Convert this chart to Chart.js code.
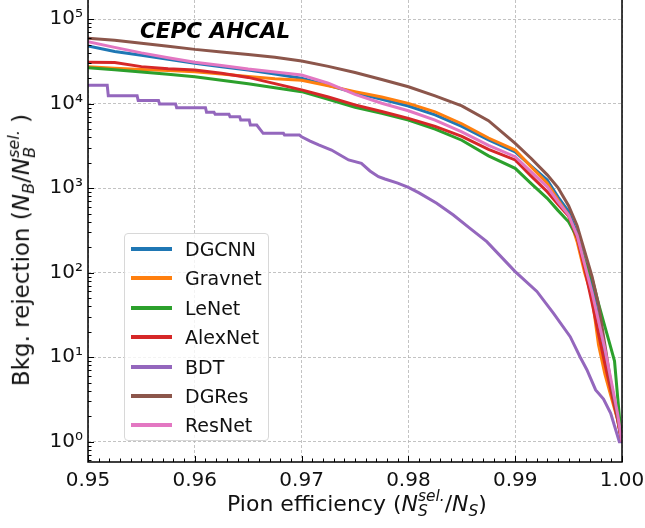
<!DOCTYPE html>
<html lang="en">
<head>
  <meta charset="UTF-8">
  <title>CEPC AHCAL rejection</title>
  <script src="https://cdn.jsdelivr.net/npm/chart.js"></script>
  <style>
    body { margin: 0; background: #fff; font-family: 'DejaVu Sans', sans-serif; }
    #wrap { position: relative; width: 645px; height: 528px; overflow: hidden; }
    canvas { position: absolute; left: 0; top: 0; }
    .title { position: absolute; left: 140px; top: 18px; font: italic bold 21.5px 'DejaVu Sans'; color: #000; }
    .legend {
      position: absolute; left: 124px; top: 233px; width: 145px; height: 208px;
      border: 1px solid #d8d8d8; border-radius: 4px; background: rgba(255,255,255,0.8);
      box-sizing: border-box;
    }
    .legend .row { position: absolute; left: 0; height: 20px; display: flex; align-items: center; }
    .legend .swatch { width: 41px; height: 4px; margin-left: 6px; }
    .legend .name { margin-left: 13px; font-size: 19px; color: #111; }
    .axtitle { position: absolute; color: #111; white-space: nowrap; }
    .xlabel { left: 357px; top: 504px; font-size: 22px; transform: translate(-50%, -50%); }
    .ylabel { left: 22px; top: 250px; font-size: 23px; transform: translate(-50%, -50%) rotate(-90deg); }
    .axtitle i { font-style: italic; }
    .sb { font-size: 0.7em; position: relative; top: 0.3em; }
    .ss { display: inline-block; font-size: 0.7em; line-height: 1; vertical-align: -0.35em; text-align: left; }
  </style>
</head>
<body>
<div id="wrap">
  <canvas id="roc" width="645" height="528"></canvas>
  <div class="title">CEPC AHCAL</div>
  <div class="legend" id="legend"></div>
  <div class="axtitle xlabel">Pion efficiency (<i>N</i><span class="ss"><i>sel.</i><br><i>S</i></span>/<i>N</i><span class="sb"><i>S</i></span>)</div>
  <div class="axtitle ylabel">Bkg. rejection (<i>N</i><span class="sb"><i>B</i></span>/<i>N</i><span class="ss"><i>sel.</i><br><i>B</i></span> )</div>
</div>

<script>
  // pion efficiency points shared by the NN curves
  const efficiency = [0.950, 0.9525, 0.955, 0.9575, 0.960, 0.9625, 0.965, 0.9675, 0.970, 0.9725,
    0.975, 0.9775, 0.980, 0.9825, 0.985, 0.9875, 0.990, 0.9915, 0.993, 0.994,
    0.995, 0.9958, 0.9965, 0.9972, 0.9978, 0.9984, 0.9989, 0.9993, 0.9996, 0.9999, 1.0];

  const dgcnn = [48200, 41500, 37500, 33500, 30100, 27400, 25000, 22500, 20000, 16500,
    13500, 11300, 9400, 7400, 5400, 3730, 2700, 1830, 1250, 790,
    530, 290, 138, 71, 28, 11, 5.2, 2.8, 1.85, 1.12, 1];
  const gravnet = [27400, 26300, 25500, 24700, 23900, 22500, 21000, 19800, 19000, 16300,
    13900, 12000, 10100, 8000, 5800, 3930, 2830, 1790, 1150, 730,
    480, 233, 100, 51, 14, 6.3, 3.7, 2.45, 1.8, 1.12, 1];
  const lenet = [26700, 25200, 23800, 22300, 20900, 19000, 17200, 15500, 13900, 11300,
    9100, 7700, 6410, 5000, 3700, 2420, 1720, 1135, 760, 547,
    400, 263, 135, 85, 43, 23, 13.7, 9, 3.3, 1.25, 1];
  const alexnet = [30900, 30800, 27500, 26000, 25100, 23000, 20500, 17300, 14600, 12000,
    9700, 8100, 6720, 5400, 4100, 2890, 2160, 1390, 910, 645,
    470, 261, 112, 44, 19, 8.3, 4.4, 2.6, 1.8, 1.12, 1];
  const dgres = [59400, 56500, 52000, 48000, 44000, 41000, 38200, 35600, 32000, 27700,
    23400, 19400, 15900, 12400, 9440, 6300, 3400, 2250, 1440, 1020,
    620, 360, 180, 90, 42, 14, 5.5, 3.0, 1.9, 1.15, 1];
  const resnet = [54200, 46500, 40000, 35000, 30900, 28300, 25700, 23800, 21900, 17500,
    12900, 10150, 8260, 6400, 4650, 3210, 2360, 1560, 1040, 697,
    480, 276, 126, 58, 27, 12.5, 6, 3.3, 2.1, 1.17, 1];

  // BDT is a staircase, so it has its own efficiency points
  const bdtEff = [0.9500, 0.9518, 0.9519, 0.9546, 0.9547, 0.9566, 0.9567, 0.9582, 0.9583, 0.9610,
    0.9611, 0.9618, 0.9619, 0.9632, 0.9633, 0.9642, 0.9643, 0.9651, 0.9652, 0.9658,
    0.9664, 0.9683, 0.9684, 0.9698, 0.9700, 0.9708, 0.9716, 0.9728, 0.9736, 0.9744,
    0.9756, 0.9764, 0.9772, 0.9778, 0.9790, 0.9800, 0.9810, 0.98265, 0.98421, 0.98577,
    0.98734, 0.9900, 0.99203, 0.99359, 0.99515, 0.99609, 0.99671, 0.99753, 0.99827, 0.99894,
    0.99975, 1.0];
  const bdt = [16600, 16600, 12400, 12400, 10900, 10900, 9930, 9930, 8970, 8970,
    7910, 7910, 7530, 7530, 7020, 7020, 6410, 6410, 5600, 5600,
    4460, 4460, 4260, 4260, 4070, 3620, 3250, 2830, 2470, 2160,
    1970, 1600, 1370, 1285, 1150, 1025, 880, 663, 482, 335,
    233, 103, 60, 33, 17.5, 10, 7.1, 4.1, 3.2, 2.17,
    1.0, 1.0];

  const names = ['DGCNN', 'Gravnet', 'LeNet', 'AlexNet', 'BDT', 'DGRes', 'ResNet'];
  const colors = ['#1f77b4', '#ff7f0e', '#2ca02c', '#d62728', '#9467bd', '#8c564b', '#e377c2'];

  const xTicks = [0.95, 0.96, 0.97, 0.98, 0.99, 1.00];
  const xTickLabels = ['0.95', '0.96', '0.97', '0.98', '0.99', '1.00'];
  const yTicks = [1, 10, 100, 1000, 10000, 100000];
  const yTickLabels = ['10\u2070', '10\u00b9', '10\u00b2', '10\u00b3', '10\u2074', '10\u2075'];

  const xMin = 0.95, xMax = 1.0;
  const yMin = 0.575, yMax = 169000;

  const series = [
    [efficiency, dgcnn], [efficiency, gravnet], [efficiency, lenet], [efficiency, alexnet],
    [bdtEff, bdt], [efficiency, dgres], [efficiency, resnet]
  ];

  const datasets = series.map(([xs, ys], i) => ({
    label: names[i],
    data: xs.map((x, k) => ({ x: x, y: ys[k] })),
    borderColor: colors[i],
    backgroundColor: colors[i],
    borderWidth: 3,
    pointRadius: 0,
    tension: 0,
    fill: false,
    order: series.length - i  // later series on top, like matplotlib
  }));

  // inward tick marks and the frame
  const frame = {
    id: 'frame',
    afterDatasetsDraw(chart) {
      const { ctx, chartArea: a, scales } = chart;
      ctx.save();
      ctx.strokeStyle = '#000';
      ctx.lineWidth = 1;
      ctx.beginPath();
      scales.x.ticks.forEach(t => {
        const p = Math.round(scales.x.getPixelForValue(t.value)) + 0.5;
        ctx.moveTo(p, a.bottom);
        ctx.lineTo(p, a.bottom - (t.big ? 6 : 3.5));
      });
      scales.y.ticks.forEach(t => {
        const p = Math.round(scales.y.getPixelForValue(t.value)) + 0.5;
        ctx.moveTo(a.left, p);
        ctx.lineTo(a.left + (t.big ? 6 : 3.5), p);
      });
      ctx.stroke();
      ctx.lineWidth = 1.5;
      ctx.beginPath();
      ctx.moveTo(a.left, a.top);
      ctx.lineTo(a.left, a.bottom);
      ctx.lineTo(a.right, a.bottom);
      ctx.lineTo(a.right, a.top);
      ctx.stroke();
      ctx.restore();
    }
  };

  const gridColor = c => (c.tick && c.tick.big) ? '#b4b4b4' : 'rgba(0,0,0,0)';

  // keep the plot box where it is in the picture, ignore label overhang
  const noPad = scale => {
    scale.paddingTop = 0; scale.paddingBottom = 0;
    scale.paddingLeft = 0; scale.paddingRight = 0;
  };

  new Chart(document.getElementById('roc').getContext('2d'), {
    type: 'line',
    data: { datasets },
    options: {
      responsive: false,
      animation: false,
      layout: { padding: { top: 0, right: 23, left: 0, bottom: 0 } },
      plugins: { legend: { display: false }, tooltip: { enabled: false } },
      scales: {
        x: {
          type: 'linear',
          min: xMin, max: xMax,
          afterBuildTicks(scale) {
            const ticks = [];
            for (let i = 0; i <= 50; i++) {
              const v = Math.round((xMin + i * 0.001) * 1e6) / 1e6;
              const j = xTicks.findIndex(t => Math.abs(t - v) < 1e-7);
              ticks.push({ value: v, big: j >= 0, lab: j >= 0 ? xTickLabels[j] : '' });
            }
            scale.ticks = ticks;
          },
          afterFit(scale) { scale.height = 66; noPad(scale); },
          ticks: {
            autoSkip: false, maxRotation: 0, padding: 7,
            color: '#111', font: { family: 'DejaVu Sans', size: 20 },
            callback: (v, i, ticks) => ticks[i].lab
          },
          grid: { color: gridColor, lineWidth: 0.8, drawTicks: false },
          border: { display: false, dash: [3, 2] }
        },
        y: {
          type: 'logarithmic',
          min: yMin, max: yMax,
          afterBuildTicks(scale) {
            const ticks = [];
            for (let n = -1; n <= 5; n++) {
              for (let m = 1; m <= 9; m++) {
                const v = m * Math.pow(10, n);
                if (v < yMin || v > yMax) continue;
                const j = m === 1 ? yTicks.indexOf(Math.pow(10, n)) : -1;
                ticks.push({ value: v, big: j >= 0, lab: j >= 0 ? yTickLabels[j] : '' });
              }
            }
            scale.ticks = ticks;
          },
          afterFit(scale) { scale.width = 88; noPad(scale); },
          ticks: {
            autoSkip: false, padding: 5,
            color: '#111', font: { family: 'DejaVu Sans', size: 20 },
            callback: (v, i, ticks) => ticks[i].lab
          },
          grid: { color: gridColor, lineWidth: 0.8, drawTicks: false },
          border: { display: false, dash: [3, 2] }
        }
      }
    },
    plugins: [frame]
  });

  // legend box drawn as html
  const legend = document.getElementById('legend');
  names.forEach((name, i) => {
    const row = document.createElement('div');
    row.className = 'row';
    row.style.top = (5 + i * 29.4) + 'px';
    row.innerHTML = '<div class="swatch" style="background:' + colors[i] + '"></div><span class="name">' + name + '</span>';
    legend.appendChild(row);
  });
</script>
</body>
</html>
